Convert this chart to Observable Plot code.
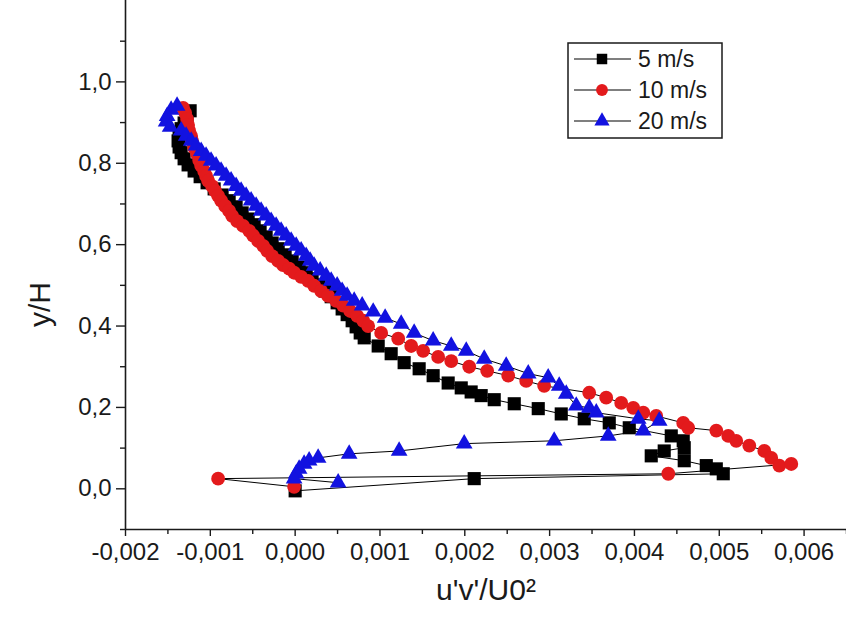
<!DOCTYPE html>
<html><head><meta charset="utf-8">
<script src="https://cdn.jsdelivr.net/npm/d3@7"></script>
<script src="https://cdn.jsdelivr.net/npm/@observablehq/plot@0.6"></script>
<style>
html,body{margin:0;padding:0;background:#fff;}
#wrap{position:relative;width:846px;height:638px;font-family:"Liberation Sans",Arial,sans-serif;}
</style></head><body><div id="wrap"></div>
<script>
const seriesNames = ["5 m/s", "10 m/s", "20 m/s"];
const seriesColors = ["#000000", "#e31a1c", "#1212e0"];

const u5 = [-0.001238,-0.001274,-0.001309,-0.001344,-0.001368,-0.001380,-0.001368,-0.001344,-0.001309,-0.001262,
-0.001191,-0.001120,-0.001038,-0.000955,-0.000861,-0.000778,-0.000696,-0.000625,-0.000554,-0.000483,
-0.000413,-0.000342,-0.000271,-0.000200,-0.000118,-0.000035,0.000047,0.000130,0.000200,0.000283,
0.000354,0.000425,0.000495,0.000554,0.000613,0.000672,0.000719,0.000767,0.000814,
0.000979,0.001132,0.001285,0.001462,0.001627,0.001804,0.001958,0.002075,0.002193,0.002347,
0.002583,0.002866,0.003137,0.003408,0.003703,0.003939,
0.004434,0.004575,0.004587,0.004351,0.004198,0.004587,0.004847,0.004965,0.005047,
0.002111,0.0];
const y5 = [0.929,0.914,0.899,0.885,0.870,0.855,0.840,0.826,0.811,0.796,
0.781,0.767,0.752,0.737,0.722,0.708,0.693,0.678,0.663,0.649,
0.634,0.619,0.604,0.590,0.575,0.560,0.545,0.531,0.516,0.501,
0.486,0.472,0.457,0.442,0.428,0.413,0.398,0.383,0.371,
0.351,0.332,0.310,0.295,0.278,0.260,0.248,0.238,0.229,0.219,
0.209,0.197,0.184,0.172,0.162,0.150,
0.130,0.118,0.101,0.093,0.081,0.069,0.057,0.049,0.037,
0.025,-0.005];

const u10 = [-0.001321,-0.001297,-0.001274,-0.001262,-0.001250,-0.001226,-0.001215,-0.001191,-0.001156,-0.001132,
-0.001108,-0.001073,-0.001050,-0.001026,-0.000979,-0.000943,-0.000908,-0.000873,-0.000825,-0.000778,
-0.000743,-0.000684,-0.000613,-0.000542,-0.000495,-0.000436,-0.000377,-0.000330,-0.000271,-0.000200,
-0.000142,-0.000071,-0.000012,0.000071,0.000153,0.000224,0.000307,0.000389,0.000483,0.000566,
0.000649,0.000731,0.000802,0.000861,0.001014,0.001215,0.001368,0.001509,0.001686,0.001840,
0.002052,0.002264,0.002512,0.002724,0.002936,0.003467,0.003667,0.003844,0.003986,0.004104,
0.004257,0.004575,0.004634,0.004965,0.005106,0.005200,0.005354,0.005531,0.005613,0.005708,
0.005849,0.004399,-0.000908,-0.000012];
const y10 = [0.936,0.924,0.909,0.894,0.880,0.867,0.855,0.838,0.823,0.808,
0.794,0.781,0.769,0.757,0.744,0.732,0.720,0.708,0.695,0.683,
0.671,0.658,0.646,0.634,0.622,0.609,0.597,0.585,0.572,0.560,
0.550,0.541,0.531,0.521,0.511,0.499,0.486,0.474,0.462,0.450,
0.437,0.425,0.413,0.400,0.383,0.369,0.351,0.339,0.324,0.314,
0.300,0.290,0.278,0.265,0.253,0.236,0.224,0.211,0.199,0.187,
0.179,0.162,0.150,0.143,0.130,0.118,0.106,0.093,0.076,0.057,
0.061,0.037,0.025,0.005];

const u20 = [-0.001392,-0.001462,-0.001509,-0.001521,-0.001474,-0.001344,-0.001285,-0.001226,-0.001167,-0.001108,
-0.001050,-0.000991,-0.000932,-0.000873,-0.000814,-0.000755,-0.000696,-0.000637,-0.000578,-0.000519,
-0.000460,-0.000401,-0.000342,-0.000283,-0.000224,-0.000165,-0.000106,-0.000047,0.000012,0.000071,
0.000130,0.000177,0.000224,0.000295,0.000366,0.000425,0.000495,0.000554,0.000613,0.000696,
0.000790,0.000920,0.001061,0.001250,0.001403,0.001627,0.001840,0.002017,0.002229,0.002488,
0.002748,0.002983,0.003113,0.003196,0.003314,0.003467,0.003550,0.004045,0.004292,0.004104,
0.003691,0.003054,0.001993,0.001226,0.000637,0.000271,0.000165,0.000106,0.000047,0.000012,
-0.000012,0.000507];
const y20 = [0.941,0.931,0.916,0.902,0.889,0.880,0.867,0.855,0.843,0.830,
0.818,0.806,0.794,0.781,0.769,0.757,0.744,0.732,0.720,0.708,
0.695,0.683,0.671,0.658,0.646,0.634,0.622,0.609,0.597,0.585,
0.572,0.560,0.548,0.536,0.523,0.511,0.499,0.486,0.474,0.462,
0.450,0.435,0.420,0.405,0.383,0.364,0.351,0.339,0.319,0.302,
0.283,0.273,0.253,0.233,0.204,0.199,0.187,0.172,0.167,0.143,
0.130,0.118,0.111,0.093,0.086,0.076,0.069,0.061,0.049,0.037,
0.025,0.015];

const xTicks = [-0.002,-0.001,0,0.001,0.002,0.003,0.004,0.005,0.006];
const xMinorTicks = [-0.0015,-0.0005,0.0005,0.0015,0.0025,0.0035,0.0045,0.0055,0.0065];
const yTicks = [0,0.2,0.4,0.6,0.8,1.0];
const yMinorTicks = [-0.1,0.1,0.3,0.5,0.7,0.9,1.1];
const xTitle = "u'v'/U0²";
const yTitle = "y/H";

const rows = (us, ys) => us.map((u, i) => ({u, y: ys[i]}));
const d5 = rows(u5, y5), d10 = rows(u10, y10), d20 = rows(u20, y20);

const fmtX = d => (Math.abs(d) < 1e-12 ? 0 : d).toFixed(3).replace(".", ",");
const fmtY = d => (Math.abs(d) < 1e-12 ? 0 : d).toFixed(1).replace(".", ",");
const ink = "#1a1a1a";

const chart = Plot.plot({
  width: 846, height: 638,
  marginLeft: 125, marginRight: 0, marginTop: 0, marginBottom: 109,
  style: {fontFamily: "'Liberation Sans', Arial, sans-serif", background: "#fff", color: ink},
  x: {domain: [-0.002, 0.0065], label: null},
  y: {domain: [-0.1, 1.2], label: null},
  marks: [
    Plot.ruleX([-0.002], {stroke: ink, strokeWidth: 1.6}),
    Plot.ruleY([-0.1], {stroke: ink, strokeWidth: 1.6}),
    Plot.axisX(xTicks, {tickSize: 7, tickPadding: 6, fontSize: 24, tickFormat: fmtX, label: null, strokeWidth: 1.4}),
    Plot.axisX(xMinorTicks, {tickSize: 5, tickFormat: () => "", label: null, strokeWidth: 1.4}),
    Plot.axisY(yTicks, {tickSize: 9, tickPadding: 5, fontSize: 24, tickFormat: fmtY, label: null, strokeWidth: 1.4}),
    Plot.axisY(yMinorTicks, {tickSize: 5, tickFormat: () => "", label: null, strokeWidth: 1.4}),
    Plot.line(d5, {x: "u", y: "y", stroke: "#000", strokeWidth: 1}),
    Plot.line(d10, {x: "u", y: "y", stroke: "#000", strokeWidth: 1}),
    Plot.line(d20, {x: "u", y: "y", stroke: "#000", strokeWidth: 1}),
    Plot.dot(d5, {x: "u", y: "y", symbol: "square", r: 7.4, fill: seriesColors[0], stroke: null}),
    Plot.dot(d10, {x: "u", y: "y", symbol: "circle", r: 6.9, fill: seriesColors[1], stroke: null}),
    Plot.dot(d20, {x: "u", y: "y", symbol: "triangle", r: 6.2, fill: seriesColors[2], stroke: null}),
    Plot.text([xTitle], {text: d => d, frameAnchor: "bottom", dy: 70, fontSize: 30, fill: ink}),
    Plot.text([yTitle], {text: d => d, frameAnchor: "left", dx: -85, dy: 62, rotate: -90, fontSize: 30, fill: ink})
  ]
});
const wrap = document.getElementById("wrap");
wrap.appendChild(chart);

// legend overlay
const leg = d3.select(wrap).append("svg")
  .attr("width", 846).attr("height", 638)
  .style("position", "absolute").style("left", "0px").style("top", "0px")
  .style("font-family", "'Liberation Sans', Arial, sans-serif");
leg.append("rect").attr("x", 568).attr("y", 43).attr("width", 154).attr("height", 95)
  .attr("fill", "#fff").attr("stroke", ink).attr("stroke-width", 1.5);
const symbols = [d3.symbolSquare, d3.symbolCircle, d3.symbolTriangle];
const areas = [110, 110, 100];
seriesNames.forEach((name, i) => {
  const cy = 59 + i * 31;
  leg.append("line").attr("x1", 574).attr("x2", 631).attr("y1", cy).attr("y2", cy)
    .attr("stroke", "#000").attr("stroke-width", 1.2);
  leg.append("path").attr("d", d3.symbol(symbols[i], areas[i])())
    .attr("transform", `translate(602,${cy})`).attr("fill", seriesColors[i]);
  leg.append("text").attr("x", 638).attr("y", cy).attr("dy", "0.35em")
    .attr("font-size", 23).attr("fill", ink).text(name);
});
</script></body></html>
